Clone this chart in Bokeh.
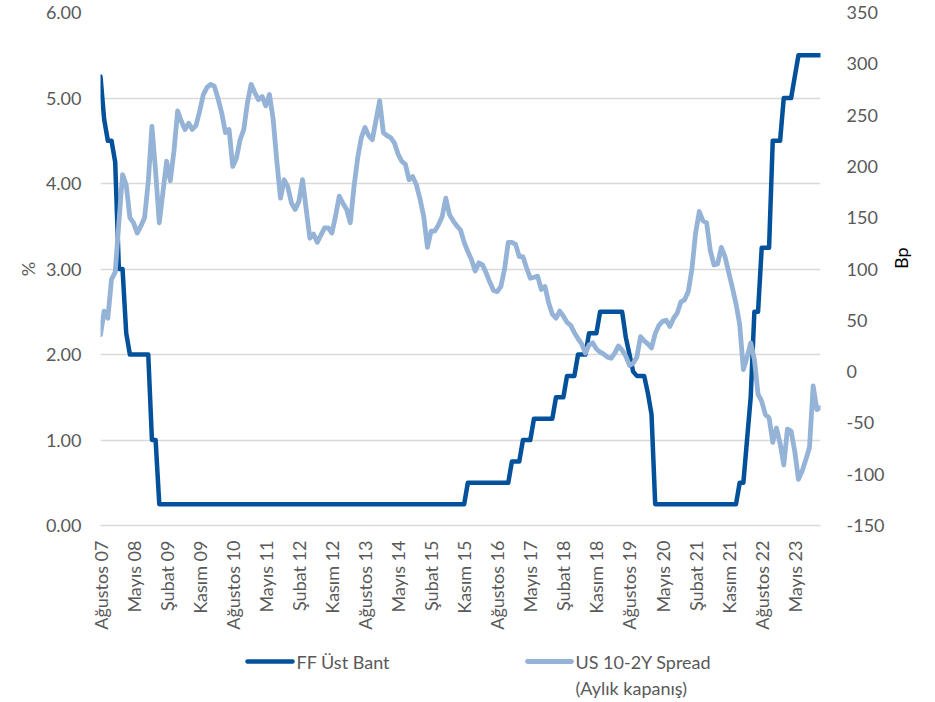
from math import pi
from bokeh.plotting import figure
from bokeh.layouts import column
from bokeh.models import Range1d, LinearAxis, FixedTicker, NumeralTickFormatter
from bokeh.core.properties import value
from bokeh.embed import file_html
from bokeh.resources import INLINE

# ---------------- data (monthly, Aug 2007 .. Dec 2023) ----------------
ff_upper = [
    # 2007 Aug-Dec
    5.25, 4.75, 4.50, 4.50, 4.25,
    # 2008
    3.00, 3.00, 2.25, 2.00, 2.00, 2.00, 2.00, 2.00, 2.00, 1.00, 1.00, 0.25,
    # 2009
    0.25, 0.25, 0.25, 0.25, 0.25, 0.25, 0.25, 0.25, 0.25, 0.25, 0.25, 0.25,
    # 2010
    0.25, 0.25, 0.25, 0.25, 0.25, 0.25, 0.25, 0.25, 0.25, 0.25, 0.25, 0.25,
    # 2011
    0.25, 0.25, 0.25, 0.25, 0.25, 0.25, 0.25, 0.25, 0.25, 0.25, 0.25, 0.25,
    # 2012
    0.25, 0.25, 0.25, 0.25, 0.25, 0.25, 0.25, 0.25, 0.25, 0.25, 0.25, 0.25,
    # 2013
    0.25, 0.25, 0.25, 0.25, 0.25, 0.25, 0.25, 0.25, 0.25, 0.25, 0.25, 0.25,
    # 2014
    0.25, 0.25, 0.25, 0.25, 0.25, 0.25, 0.25, 0.25, 0.25, 0.25, 0.25, 0.25,
    # 2015
    0.25, 0.25, 0.25, 0.25, 0.25, 0.25, 0.25, 0.25, 0.25, 0.25, 0.25, 0.50,
    # 2016
    0.50, 0.50, 0.50, 0.50, 0.50, 0.50, 0.50, 0.50, 0.50, 0.50, 0.50, 0.75,
    # 2017
    0.75, 0.75, 1.00, 1.00, 1.00, 1.25, 1.25, 1.25, 1.25, 1.25, 1.25, 1.50,
    # 2018
    1.50, 1.50, 1.75, 1.75, 1.75, 2.00, 2.00, 2.00, 2.25, 2.25, 2.25, 2.50,
    # 2019
    2.50, 2.50, 2.50, 2.50, 2.50, 2.50, 2.20, 2.00, 1.80, 1.75, 1.75, 1.75,
    # 2020
    1.55, 1.30, 0.25, 0.25, 0.25, 0.25, 0.25, 0.25, 0.25, 0.25, 0.25, 0.25,
    # 2021
    0.25, 0.25, 0.25, 0.25, 0.25, 0.25, 0.25, 0.25, 0.25, 0.25, 0.25, 0.25,
    # 2022
    0.25, 0.50, 0.50, 1.00, 1.50, 2.50, 2.50, 3.25, 3.25, 3.25, 4.50, 4.50,
    # 2023
    4.50, 5.00, 5.00, 5.00, 5.25, 5.50, 5.50, 5.50, 5.50, 5.50, 5.50, 5.50,
]

spread_bp = [
    # 2007 Aug-Dec
    36, 59, 52, 90, 97,
    # 2008
    145, 192, 182, 150, 145, 135, 142, 150, 185, 239, 195, 145,
    # 2009
    175, 205, 186, 215, 254, 244, 236, 242, 236, 240, 254, 270,
    # 2010
    277, 280, 278, 266, 252, 233, 236, 200, 208, 226, 236, 262,
    # 2011
    280, 272, 265, 268, 259, 270, 246, 205, 169, 187, 180, 164,
    # 2012
    158, 166, 187, 158, 130, 134, 126, 133, 140, 140, 135, 152,
    # 2013
    171, 164, 158, 145, 180, 208, 228, 238, 230, 226, 245, 264,
    # 2014
    233, 230, 228, 223, 212, 205, 202, 187, 190, 182, 168, 151,
    # 2015
    121, 137, 137, 143, 151, 169, 153, 147, 142, 138, 126, 117,
    # 2016
    109, 98, 106, 104, 96, 87, 79, 78, 83, 100, 126, 126,
    # 2017
    124, 112, 112, 101, 91, 92, 93, 80, 83, 67, 56, 52,
    # 2018
    59, 54, 48, 45, 38, 32, 27, 18, 26, 28, 22, 19,
    # 2019
    17, 14, 13, 18, 25, 21, 15, 6, 8, 14, 34, 30,
    # 2020
    27, 23, 37, 45, 49, 50, 44, 52, 57, 68, 70, 78,
    # 2021
    100, 135, 156, 147, 145, 118, 104, 105, 121, 112, 97, 82,
    # 2022
    66, 46, 2, 14, 28, 12, -22, -29, -42, -45, -69, -55,
    # 2023
    -70, -91, -56, -58, -78, -105, -97, -86, -74, -14, -37, -35,
]

tick_pos = [0, 9, 18, 27, 36, 45, 54, 63, 72, 81, 90, 99, 108, 117, 126, 135,
            144, 153, 162, 171, 180, 189]
tick_labels = ["Ağustos 07", "Mayıs 08", "Şubat 09", "Kasım 09", "Ağustos 10",
               "Mayıs 11", "Şubat 12", "Kasım 12", "Ağustos 13", "Mayıs 14",
               "Şubat 15", "Kasım 15", "Ağustos 16", "Mayıs 17", "Şubat 18",
               "Kasım 18", "Ağustos 19", "Mayıs 20", "Şubat 21", "Kasım 21",
               "Ağustos 22", "Mayıs 23"]
left_ticks = [0, 1, 2, 3, 4, 5, 6]
right_ticks = [-150, -100, -50, 0, 50, 100, 150, 200, 250, 300, 350]
right_tick_labels = ["-150", "-100", "-50", "0", "50", "100", "150", "200",
                     "250", "300", "350"]

series_names = ["FF Üst Bant", "US 10-2Y Spread", "(Aylık kapanış)"]

x = list(range(len(ff_upper)))

# ---------------- style ----------------
FONT = "Lato"
FS = "18px"
TXT = "#595959"
DARK = "#03519B"
LIGHT = "#95B3D7"
GRID = "#D9D9D9"

BL, BR, BT, BB = 100, 98, 12, 112
FW, FH = 720, 513

p = figure(frame_width=FW, frame_height=FH,
           min_border_left=BL, min_border_right=BR, min_border_top=BT,
           min_border_bottom=BB,
           x_range=Range1d(0, len(ff_upper) - 1), y_range=Range1d(0, 6),
           output_backend="svg", toolbar_location=None,
           background_fill_color="white", border_fill_color="white")
p.outline_line_color = None
p.extra_y_ranges = {"bp": Range1d(-150, 350)}

# grid
p.xgrid.grid_line_color = None
p.ygrid.grid_line_color = GRID
p.ygrid.grid_line_width = 1.3
p.ygrid.ticker = FixedTicker(ticks=left_ticks)

# x axis
xa = p.xaxis[0]
xa.ticker = FixedTicker(ticks=tick_pos)
xa.major_label_overrides = {t: l for t, l in zip(tick_pos, tick_labels)}
xa.major_label_orientation = pi / 2
xa.major_label_standoff = 9
xa.major_tick_line_color = None
xa.minor_tick_line_color = None
xa.axis_line_color = GRID
xa.axis_line_width = 1.3
xa.major_label_text_font = FONT
xa.major_label_text_font_size = FS
xa.major_label_text_color = TXT

# left axis
ya = p.yaxis[0]
ya.ticker = FixedTicker(ticks=left_ticks)
ya.formatter = NumeralTickFormatter(format="0.00")
ya.major_tick_line_color = None
ya.minor_tick_line_color = None
ya.axis_line_color = None
ya.major_label_standoff = 13
ya.major_label_text_font = FONT
ya.major_label_text_font_size = FS
ya.major_label_text_color = TXT
ya.axis_label = "%"
ya.axis_label_standoff = 4
ya.axis_label_text_font = FONT
ya.axis_label_text_font_size = FS
ya.axis_label_text_font_style = "normal"
ya.axis_label_text_color = TXT

# right axis
ra = LinearAxis(y_range_name="bp", ticker=FixedTicker(ticks=right_ticks))
ra.major_label_overrides = {t: l for t, l in zip(right_ticks, right_tick_labels)}
ra.major_tick_line_color = None
ra.minor_tick_line_color = None
ra.axis_line_color = None
ra.major_label_standoff = 20
ra.major_label_text_font = FONT
ra.major_label_text_font_size = FS
ra.major_label_text_color = TXT
ra.axis_label = "Bp"
ra.axis_label_standoff = 13
ra.axis_label_text_font = FONT
ra.axis_label_text_font_size = FS
ra.axis_label_text_font_style = "normal"
ra.axis_label_text_color = "#000000"
try:
    ra.axis_label_orientation = pi / 2
except Exception:
    pass
p.add_layout(ra, "right")

# series
p.line(x, ff_upper, line_color=DARK, line_width=4.5,
       line_join="round", line_cap="round")
p.line(x, spread_bp, y_range_name="bp", line_color=LIGHT, line_width=4.8,
       line_join="round", line_cap="round")

# ---------------- legend (separate strip, pixel coordinates) ----------------
# the strip's frame lines up with the chart frame (left edge = chart frame left)
LH = 64
lg = figure(frame_width=FW, frame_height=LH,
            x_range=Range1d(0, FW), y_range=Range1d(0, LH),
            min_border_left=BL, min_border_right=BR, min_border_top=0,
            min_border_bottom=0, x_axis_location=None, y_axis_location=None,
            output_backend="svg", toolbar_location=None,
            background_fill_color="white", border_fill_color="white")
lg.outline_line_color = None
lg.grid.visible = False

lg.segment(x0=[147], y0=[40], x1=[192], y1=[40], line_color=DARK, line_width=4.5,
           line_cap="round")
lg.segment(x0=[427], y0=[40], x1=[471], y1=[40], line_color=LIGHT, line_width=4.8,
           line_cap="round")
lg.text(x=[196, 475, 475], y=[40, 40, 14], text=series_names,
        text_font=value(FONT), text_font_size=FS, text_color=TXT,
        text_baseline="middle", text_align="left")

layout = column(p, lg, spacing=0)

open("out.html", "w").write(file_html(layout, INLINE))
